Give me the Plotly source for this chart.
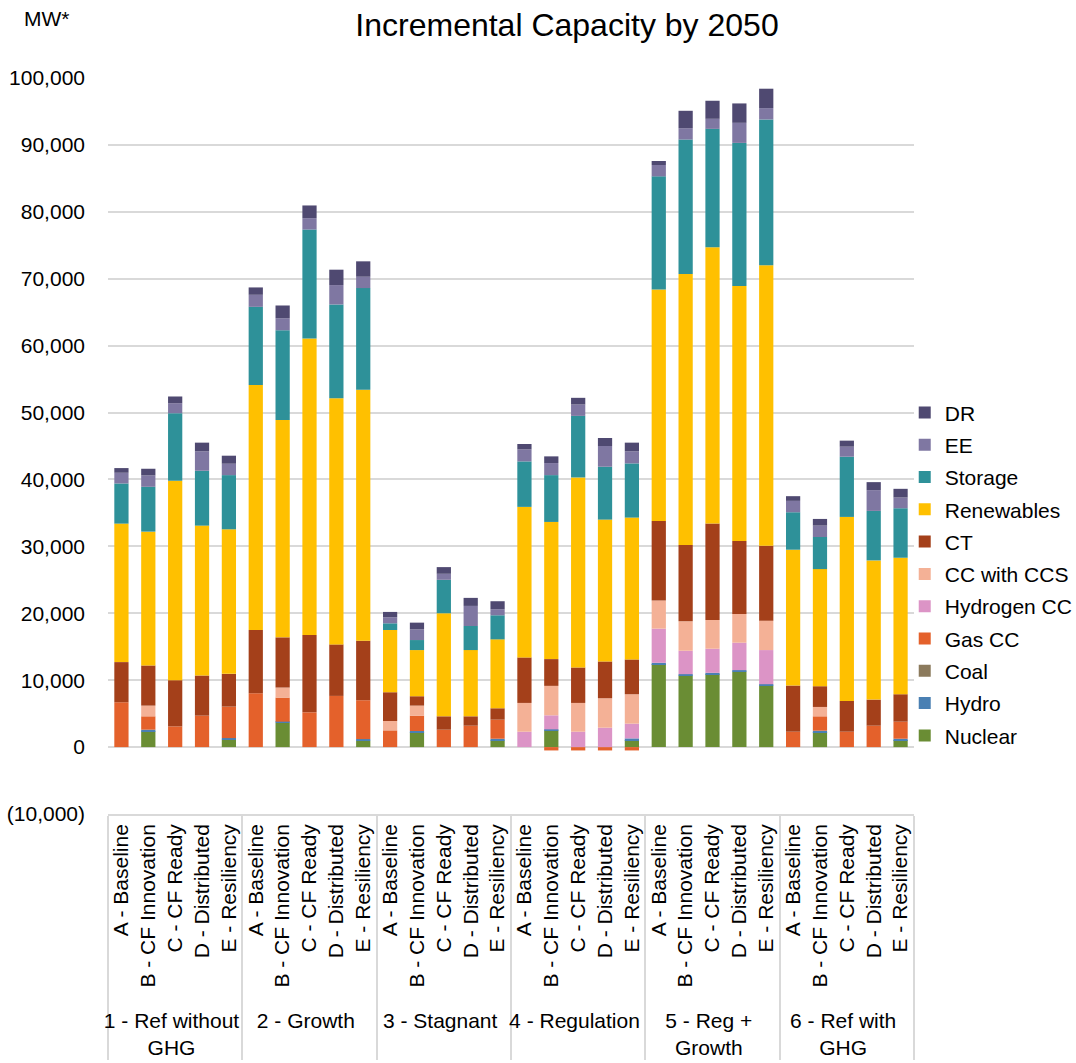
import plotly.graph_objects as go

# Scenario groups (outer category) and portfolio variants (inner category)
groups = [
    "1 - Ref without<br>GHG",
    "2 - Growth",
    "3 - Stagnant",
    "4 - Regulation",
    "5 - Reg +<br>Growth",
    "6 - Ref with<br>GHG",
]
variants = [
    "A - Baseline",
    "B - CF Innovation",
    "C - CF Ready",
    "D - Distributed",
    "E - Resiliency",
]

# Incremental capacity (MW), 5 variants per group, groups in order 1..6
nuclear = [0, 2350, 0, 0, 1100,
           0, 3650, 0, 0, 950,
           0, 2200, 0, 0, 1000,
           0, 2500, 0, 0, 1050,
           12400, 10700, 10900, 11300, 9200,
           0, 2250, 0, 0, 1050]
hydro = [0, 250, 0, 0, 250,
         0, 150, 0, 0, 250,
         0, 200, 0, 0, 250,
         0, 150, 0, 0, 250,
         200, 200, 200, 200, 200,
         0, 200, 0, 0, 200]
coal = [0] * 30
gas_cc = [6700, 2000, 3100, 4700, 4700,
          8050, 3600, 5200, 7650, 5800,
          2500, 2300, 2600, 3200, 2850,
          0, -500, -500, -500, -500,
          0, 0, 0, 0, 0,
          2300, 2150, 2300, 3200, 2550]
hydrogen_cc = [0, 0, 0, 0, 0,
               0, 0, 0, 0, 0,
               0, 0, 0, 0, 0,
               2300, 2100, 2300, 2900, 2200,
               5100, 3500, 3600, 4100, 5100,
               0, 0, 0, 0, 0]
cc_ccs = [0, 1600, 0, 0, 0,
          0, 1500, 0, 0, 0,
          1400, 1500, 0, 0, 0,
          4300, 4400, 4300, 4400, 4400,
          4200, 4400, 4300, 4300, 4400,
          0, 1400, 0, 0, 0]
ct = [6000, 6000, 6900, 6000, 4900,
      9450, 7500, 11550, 7700, 8900,
      4300, 1400, 2000, 1400, 1700,
      6800, 4000, 5300, 5500, 5200,
      11900, 11400, 14400, 10900, 11200,
      6900, 3100, 4600, 3900, 4100]
renewables = [20700, 20000, 29800, 22400, 21600,
              36600, 32500, 44300, 36800, 37500,
              9300, 6900, 15400, 9900, 10300,
              22500, 20500, 28400, 21200, 21200,
              34600, 40500, 41300, 38100, 41900,
              20300, 17500, 27500, 20800, 20400]
storage = [6000, 6700, 10100, 8200, 8100,
           11700, 13400, 16300, 14000, 15200,
           1000, 1500, 5000, 3600, 3600,
           6800, 7000, 9200, 7900, 8100,
           16900, 20100, 17700, 21400, 21800,
           5600, 4800, 9000, 7400, 7400]
ee = [1600, 1700, 1500, 2900, 1700,
      1800, 1800, 1700, 2900, 1700,
      900, 1600, 900, 3000, 900,
      1800, 1800, 1700, 3100, 1800,
      1700, 1700, 1500, 3000, 1700,
      1700, 1700, 1500, 3100, 1600]
dr = [700, 1000, 1000, 1300, 1200,
      1100, 1900, 1900, 2300, 2300,
      800, 1000, 1000, 1200, 1200,
      800, 1000, 1000, 1200, 1300,
      600, 2600, 2700, 2900, 2900,
      700, 1000, 900, 1200, 1300]

y_ticks = [-10000, 0, 10000, 20000, 30000, 40000, 50000,
           60000, 70000, 80000, 90000, 100000]

FONT = "Liberation Sans, Arial, sans-serif"

outer = [g for g in groups for _ in variants]
inner = [v for _ in groups for v in variants]

# Stack order bottom -> top
series = [
    ("Nuclear", nuclear, "#6A8D34"),
    ("Hydro", hydro, "#4A80B3"),
    ("Coal", coal, "#8B7A5C"),
    ("Gas CC", gas_cc, "#E4612B"),
    ("Hydrogen CC", hydrogen_cc, "#DC94C6"),
    ("CC with CCS", cc_ccs, "#F4B196"),
    ("CT", ct, "#A4401A"),
    ("Renewables", renewables, "#FFC000"),
    ("Storage", storage, "#2E9199"),
    ("EE", ee, "#7F77A2"),
    ("DR", dr, "#4F4971"),
]

fig = go.Figure()
for i, (name, vals, color) in enumerate(series):
    fig.add_trace(go.Bar(
        x=[outer, inner],
        y=vals,
        name=name,
        legendgroup=name,
        legendrank=1000 - i,  # top of the stack listed first
        marker=dict(color=color, line=dict(width=0)),
    ))


def fmt(v):
    return f"({abs(v):,})" if v < 0 else f"{v:,}"


fig.update_layout(
    width=1076,
    height=1063,
    barmode="relative",
    bargap=0.47,
    paper_bgcolor="white",
    plot_bgcolor="white",
    font=dict(family=FONT, size=21, color="black"),
    margin=dict(l=108, r=162, t=78, b=249, autoexpand=False),
    title=dict(
        text="Incremental Capacity by 2050",
        x=567 / 1076, xref="container", xanchor="center",
        y=1 - 25 / 1063, yref="container", yanchor="middle",
        font=dict(family=FONT, size=32, color="black"),
    ),
    legend=dict(
        traceorder="grouped",
        tracegroupgap=2,
        x=0.9885, xanchor="left",
        y=0.573, yanchor="top",
        font=dict(family=FONT, size=21, color="black"),
        itemwidth=30,
        bgcolor="rgba(0,0,0,0)",
    ),
    showlegend=True,
)

fig.update_yaxes(
    range=[-10000, 100000],
    tickvals=y_ticks,
    ticktext=[fmt(v) for v in y_ticks],
    showgrid=True,
    gridcolor="#D9D9D9",
    gridwidth=1.5,
    zeroline=True,
    zerolinecolor="#D9D9D9",
    zerolinewidth=1.5,
    showline=False,
    ticks="",
    ticklabelstandoff=22,
    tickfont=dict(family=FONT, size=21, color="black"),
)

fig.update_xaxes(
    type="multicategory",
    tickangle=-90,
    showline=True,
    linecolor="#D9D9D9",
    linewidth=1.5,
    showdividers=True,
    dividercolor="#D9D9D9",
    dividerwidth=1.5,
    ticks="",
    showgrid=False,
    tickfont=dict(family=FONT, size=21, color="black"),
)

fig.add_annotation(
    text="MW*",
    xref="paper", yref="paper",
    x=(22 - 108) / 806, xanchor="left",
    y=(814 - 19) / 736, yanchor="middle",
    showarrow=False,
    font=dict(family=FONT, size=21, color="black"),
)

fig.write_html("out.html")
